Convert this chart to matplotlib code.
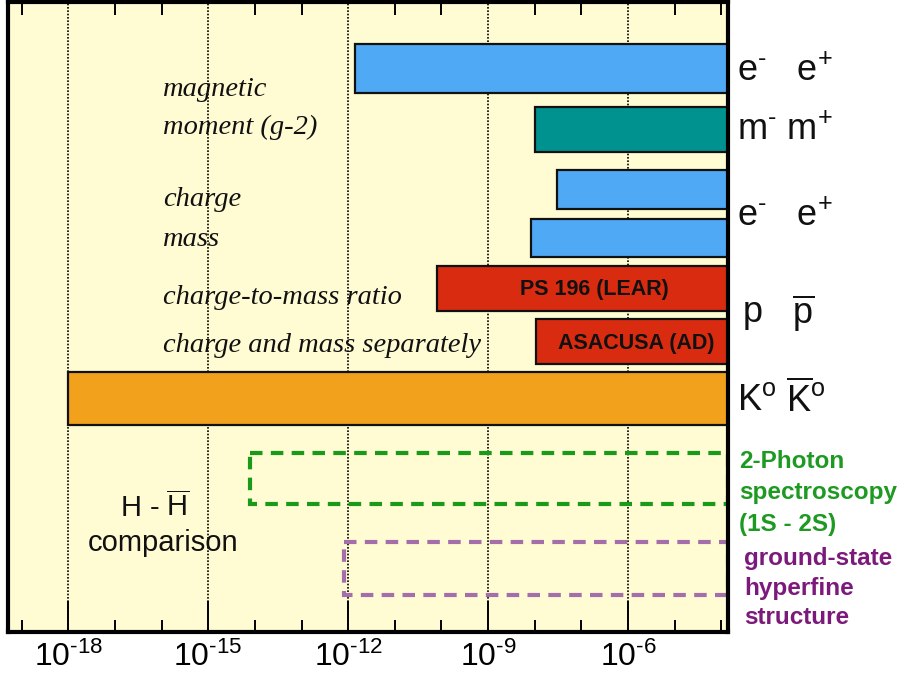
import numpy as np
import matplotlib.pyplot as plt
import matplotlib.transforms as mtransforms

plt.rcParams['font.family'] = 'Liberation Sans'
plt.rcParams['mathtext.fontset'] = 'custom'
plt.rcParams['mathtext.rm'] = 'Liberation Sans'
plt.rcParams['mathtext.it'] = 'Liberation Sans'

# relative precision reached by each CPT test (lower end of the bar)
tests = ['e_g2', 'mu_g2', 'e_charge', 'e_mass', 'ps196', 'asacusa', 'kaon', 'two_photon', 'hyperfine']
limits = [1.4e-12, 1.0e-8, 3.0e-8, 8.3e-9, 8.0e-11, 1.07e-8, 1.0e-18, 8.0e-15, 8.0e-13]
colors = ['#4fa9f5', '#00928f', '#4fa9f5', '#4fa9f5', '#d92b10', '#d92b10', '#f2a11c', 'none', 'none']
edges = ['#111111'] * 7 + ['#1a9a1a', '#a46eaa']
bar_labels = {'ps196': ('PS 196 (LEAR)', 0.815), 'asacusa': ('ASACUSA (AD)', 0.872)}

# row layout (top-down units)
rows = [6.85, 12.95, 18.95, 23.8, 28.85, 34.15, 39.85, 47.85, 56.85]
heights = [4.9, 4.5, 3.9, 3.8, 4.5, 4.5, 5.3, 5.1, 5.3]

xmin, xmax = 10**-19.29, 10**-3.86
major = [1e-18, 1e-15, 1e-12, 1e-9, 1e-6]
major_labels = [r'$\mathregular{10^{\text{-18}}}$', r'$\mathregular{10^{\text{-15}}}$',
                r'$\mathregular{10^{\text{-12}}}$', r'$\mathregular{10^{\text{-9}}}$',
                r'$\mathregular{10^{\text{-6}}}$']

fig = plt.figure(figsize=(9.03, 6.81), dpi=100)
ax = fig.add_axes([8 / 903, 49 / 681, 720 / 903, 630 / 681])
ax.set_facecolor('#fffbd3')
ax.set_xscale('log')
ax.set_xlim(xmin, xmax)
ax.set_ylim(63.2, 0.2)

trans = mtransforms.blended_transform_factory(ax.transAxes, ax.transData)

for x in major:
    ax.axvline(x, color='black', lw=1.2, ls=(0, (1, 1)), zorder=1)

for name, lo, y, h, c, ec in zip(tests, limits, rows, heights, colors, edges):
    if c == 'none':
        ax.barh(y, xmax - lo, left=lo, height=h, color='none', edgecolor=ec,
                lw=3, ls=(0, (3, 2)), zorder=3)
    else:
        ax.barh(y, xmax - lo, left=lo, height=h, color=c, edgecolor=ec, lw=1.6, zorder=3)
    if name in bar_labels:
        txt, xc = bar_labels[name]
        ax.text(xc, y + 0.15, txt, ha='center', va='center', transform=trans,
                fontsize=15.5, fontweight='bold', color='#111111', zorder=4)

# axis ticks
ax.set_xticks(major)
ax.set_xticklabels(major_labels, fontsize=23)
ax.set_xticks([10.0**k for k in range(-19, -3)], minor=True)
ax.set_xticklabels([], minor=True)
ax.set_yticks([])
ax.tick_params(axis='x', which='major', direction='in', length=22, width=1.4,
               pad=7, top=False)
ax.tick_params(axis='x', which='minor', direction='in', length=9, width=1.4, top=True)
for sp in ax.spines.values():
    sp.set_linewidth(3)
    sp.set_zorder(5)

# property labels (left)
serif = dict(family='Liberation Serif', style='italic', fontsize=20.5, color='#111111',
             va='center', ha='left', transform=trans)
ax.text(0.215, 9.0, 'magnetic', **serif)
ax.text(0.215, 12.7, 'moment (g-2)', **serif)
ax.text(0.215, 20.0, 'charge', **serif)
ax.text(0.215, 24.0, 'mass', **serif)
ax.text(0.215, 29.8, 'charge-to-mass ratio', **serif)
ax.text(0.215, 34.5, 'charge and mass separately', **serif)

# particle labels (right)
part = dict(fontsize=26, color='#111111', va='center', ha='left', transform=trans)
ax.text(1.013, 7.1, r'$\mathregular{e^{\text{-}}\ \ \ e^{+}}$', **part)
ax.text(1.013, 13.0, r'$\mathregular{m^{\text{-}}\ m^{+}}$', **part)
ax.text(1.013, 21.6, r'$\mathregular{e^{\text{-}}\ \ \ e^{+}}$', **part)
ax.text(1.02, 31.3, r'$\mathregular{p\ \ \ \overline{p}}$', **part)
ax.text(1.013, 40.0, r'$\mathregular{K^{o}\ \overline{K}^{o}}$', **part)

green = dict(fontsize=17.5, fontweight='bold', color='#1e9a22', va='center', ha='left',
             transform=trans)
ax.text(1.015, 46.1, '2-Photon', **green)
ax.text(1.015, 49.3, 'spectroscopy', **green)
ax.text(1.015, 52.4, '(1S - 2S)', **green)
purple = dict(fontsize=17.5, fontweight='bold', color='#7b1a7b', va='center', ha='left',
              transform=trans)
ax.text(1.022, 55.8, 'ground-state', **purple)
ax.text(1.022, 58.8, 'hyperfine', **purple)
ax.text(1.022, 61.8, 'structure', **purple)

# hydrogen comparison label
ax.text(0.204, 50.7, r'$\mathregular{H\ \text{-}\ \overline{H}}$', fontsize=21, ha='center',
        va='center', transform=trans, color='#111111')
ax.text(0.215, 54.3, 'comparison', fontsize=21, ha='center', va='center',
        transform=trans, color='#111111')

plt.savefig('out.png', dpi=100)
